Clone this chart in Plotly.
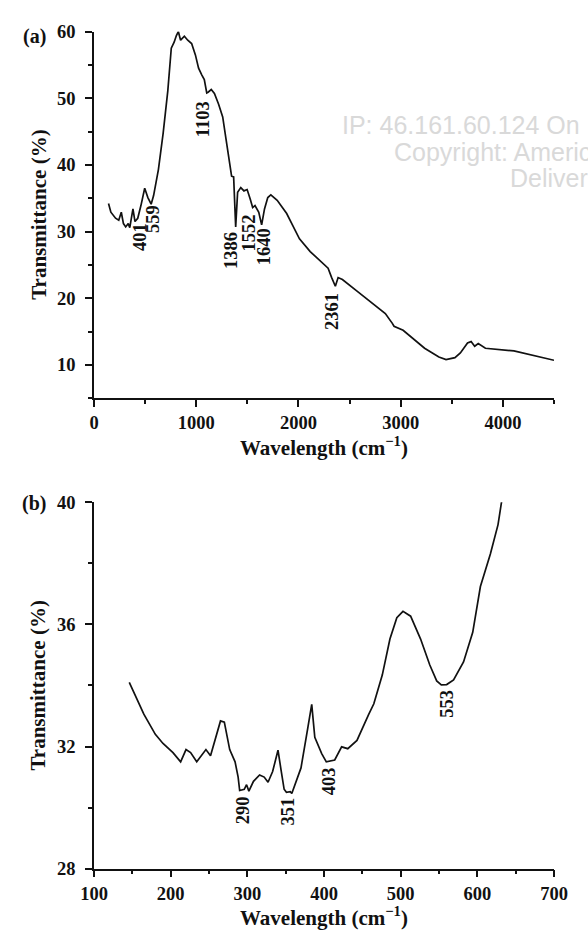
import plotly.graph_objects as go

# ---------------- data ----------------
# (a) full-range FTIR spectrum
wavenumber_a = [142, 165, 211, 242, 267, 288, 310, 335, 350, 381, 401, 428, 459, 496, 527,
                559, 583, 630, 676, 722, 756, 784, 806, 825, 847, 862, 884, 917, 955, 992,
                1023, 1054, 1079, 1103, 1116, 1147, 1178, 1219, 1259, 1290, 1321, 1346, 1366,
                1386, 1405, 1436, 1467, 1498, 1528, 1552, 1575, 1612, 1640, 1668, 1700, 1730,
                1792, 1885, 1941, 2010, 2115, 2220, 2290, 2325, 2361, 2388, 2430, 2570, 2710,
                2850, 2920, 2935, 3024, 3234, 3374, 3444, 3531, 3584, 3654, 3689, 3724, 3759,
                3829, 4108, 4500]
transmittance_a = [34.2, 32.9, 32.0, 31.7, 32.9, 31.2, 30.7, 31.2, 30.6, 33.4, 31.5, 32.0, 33.9,
                   36.5, 35.1, 34.1, 35.4, 39.3, 44.7, 51.1, 57.5, 58.4, 59.4, 60.0, 58.7, 59.0,
                   59.3, 58.7, 58.2, 56.5, 54.5, 53.5, 52.8, 50.8, 50.9, 51.3, 50.7, 49.1, 47.2,
                   44.0, 40.8, 38.3, 38.2, 30.7, 35.9, 36.6, 36.1, 36.3, 34.9, 33.6, 33.9, 32.9,
                   31.0, 33.4, 35.1, 35.5, 34.7, 32.7, 31.0, 28.9, 27.0, 25.5, 24.5, 23.1, 21.8,
                   23.1, 22.8, 21.1, 19.4, 17.7, 16.2, 15.8, 15.2, 12.5, 11.2, 10.8, 11.1, 11.8,
                   13.3, 13.5, 12.8, 13.2, 12.5, 12.1, 10.7]
peaks_a = [401, 559, 1103, 1386, 1552, 1640, 2361]

# (b) far-IR region
wavenumber_b = [146, 153, 165, 180, 190, 203, 213, 220, 226, 234, 240, 246, 252, 259, 265, 270,
                277, 284, 288, 290, 296, 299, 302, 308, 316, 322, 327, 333, 336, 340, 344, 348,
                351, 356, 358, 364, 370, 379, 384, 388, 397, 403, 414, 423, 431, 443, 451, 458,
                465, 476, 486, 495, 503, 513, 526, 538, 547, 553, 560, 569, 582, 594, 604, 617,
                627, 632]
transmittance_b = [34.1, 33.7, 33.06, 32.4, 32.1, 31.8, 31.5, 31.9, 31.8, 31.5, 31.7, 31.9, 31.7,
                   32.3, 32.84, 32.8, 31.9, 31.5, 31.0, 30.56, 30.6, 30.75, 30.54, 30.86, 31.07,
                   31.0, 30.83, 31.18, 31.45, 31.88, 31.23, 30.6, 30.5, 30.52, 30.46, 30.9, 31.3,
                   32.63, 33.38, 32.3, 31.77, 31.5, 31.56, 31.99, 31.93, 32.2, 32.66, 33.04, 33.4,
                   34.34, 35.52, 36.22, 36.43, 36.27, 35.52, 34.67, 34.15, 34.02, 34.03, 34.18,
                   34.77, 35.74, 37.24, 38.31, 39.27, 40.08]
peaks_b = [290, 351, 403, 553]

# ---------------- layout helpers ----------------
W, H = 588, 941
SERIF = "Liberation Serif"
INK = "#111111"


def fx(p):
    return p / W


def fy(p):
    return 1 - p / H


fig = go.Figure()
line_style = dict(color=INK, width=1.7)
fig.add_trace(go.Scatter(x=wavenumber_a, y=transmittance_a, mode="lines", line=line_style,
                         xaxis="x", yaxis="y", showlegend=False, hoverinfo="skip"))
fig.add_trace(go.Scatter(x=wavenumber_b, y=transmittance_b, mode="lines", line=line_style,
                         xaxis="x2", yaxis="y2", showlegend=False, hoverinfo="skip"))

tickfont = dict(family=SERIF, size=18.5, color=INK, weight="bold")


def axis(rng, dtick, minor_dtick, domain, anchor, tick0, standoff):
    return dict(range=rng, dtick=dtick, tick0=tick0, domain=domain, anchor=anchor,
                showline=True, linecolor=INK, linewidth=1.5, ticks="outside", ticklen=7,
                tickwidth=1.5, tickcolor=INK, showgrid=False, zeroline=False,
                tickfont=tickfont, ticklabelstandoff=standoff,
                minor=dict(dtick=minor_dtick, tick0=tick0, ticks="outside", ticklen=4,
                           tickwidth=1.5, tickcolor=INK, showgrid=False))


xdom = [fx(84), fx(567)]
fig.update_layout(
    width=W, height=H, margin=dict(l=0, r=0, t=0, b=0),
    paper_bgcolor="white", plot_bgcolor="white",
    xaxis=axis([0, 4500], 1000, 500, xdom, "y", 0, 0),
    yaxis=axis([5, 60], 10, 5, [fy(396.7), fy(22)], "x", 0, 6),
    xaxis2=axis([100, 700], 100, 50, xdom, "y2", 100, 0),
    yaxis2=axis([28, 40], 4, 2, [fy(877.3), fy(503)], "x2", 28, 6),
)

ann = []


def text(s, x, y, size, angle=0, **kw):
    ann.append(dict(text=s, x=fx(x), y=fy(y), xref="paper", yref="paper", showarrow=False,
                    textangle=angle, xanchor="center", yanchor="middle",
                    font=dict(family=SERIF, size=size, color=INK), **kw))


# panel letters and axis titles
text("<b>(a)</b>", 21.5, 27, 20)
text("<b>(b)</b>", 20.5, 504, 20)
title_x = "<b>Wavelength (cm<sup>\u22121</sup>)</b>"
title_y = "<b>Transmittance (%)</b>"
text(title_x, 325.5, 446, 21)
text(title_x, 325.5, 926, 21)
text(title_y, 25.5, 209, 21, angle=-90)
text(title_y, 25.5, 690, 21, angle=-90)

# band labels, rotated, set just below each band
label_y_a = [29.2, 31.9, 46.9, 27.2, 29.8, 27.75, 18.0]
shift_a = [5, 2, -3.5, -4, -4, 2, -4]
for p, ly, dx in zip(peaks_a, label_y_a, shift_a):
    ann.append(dict(text=f"<b>{p}</b>", x=p, y=ly, xref="x", yref="y", showarrow=False,
                    textangle=-90, xshift=dx, xanchor="center", yanchor="middle",
                    font=dict(family=SERIF, size=18.5, color=INK)))
label_y_b = [29.9, 29.87, 30.87, 33.41]
shift_b = [3, 1.5, 3, 6]
for p, ly, dx in zip(peaks_b, label_y_b, shift_b):
    ann.append(dict(text=f"<b>{p}</b>", x=p, y=ly, xref="x2", yref="y2", showarrow=False,
                    textangle=-90, xshift=dx, xanchor="center", yanchor="middle",
                    font=dict(family=SERIF, size=18.5, color=INK)))

# delivery stamp in light grey
stamp = ["IP: 46.161.60.124 On", "Copyright: American Scientific Publishers",
         "Delivered by Ingenta"]
stamp_pos = [(342.7, 118), (396.7, 145), (518.3, 172)]
for s, (sx, sy) in zip(stamp, stamp_pos):
    ann.append(dict(text=s, x=fx(sx), y=fy(sy), xref="paper", yref="paper", showarrow=False,
                    xanchor="left", yanchor="middle",
                    font=dict(family="Liberation Sans", size=25, color="#d9d9d9")))

fig.update_layout(annotations=ann)
fig.write_html("out.html")
